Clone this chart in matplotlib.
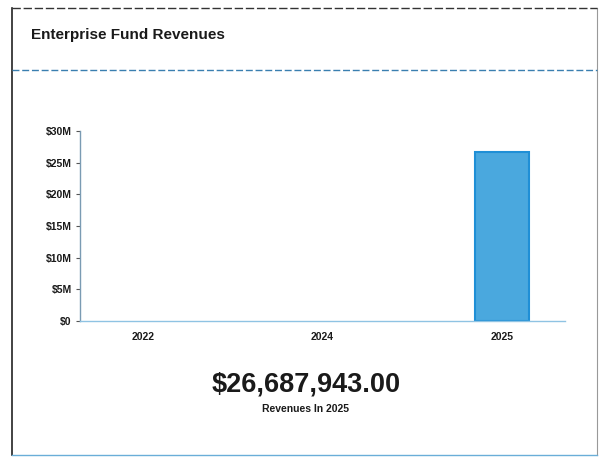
import matplotlib
matplotlib.use("Agg")
import matplotlib.pyplot as plt
from matplotlib.ticker import FuncFormatter
from matplotlib.lines import Line2D

# Revenue by fiscal year
years = ["2022", "2024", "2025"]
revenues = [0, 0, 26687943.00]
y_ticks = [0, 5e6, 10e6, 15e6, 20e6, 25e6, 30e6]
highlight_year = "2025"

plt.rcParams["font.family"] = ["Liberation Sans", "DejaVu Sans"]

W, H = 600, 459
fig = plt.figure(figsize=(W / 100, H / 100), dpi=100)
fig.patch.set_facecolor("white")

# Card frame
def fx(px):
    return px / W

def fy(py):
    return 1 - py / H

frame_col = "#333333"
fig.add_artist(Line2D([fx(12), fx(12)], [fy(8), fy(455)], color="#222222", lw=1.2,
                      transform=fig.transFigure))
fig.add_artist(Line2D([fx(597), fx(597)], [fy(8), fy(455)], color="#999999", lw=0.8,
                      transform=fig.transFigure))
fig.add_artist(Line2D([fx(12), fx(597)], [fy(8), fy(8)], color=frame_col, lw=1.0,
                      ls=(0, (6, 2)), transform=fig.transFigure))
fig.add_artist(Line2D([fx(12), fx(597)], [fy(70), fy(70)], color="#3a7fb0", lw=1.0,
                      ls=(0, (5, 2)), transform=fig.transFigure))
fig.add_artist(Line2D([fx(12), fx(597)], [fy(455), fy(455)], color="#6aaed8", lw=1.0,
                      transform=fig.transFigure))

fig.text(fx(31), fy(35), "Enterprise Fund Revenues", fontsize=11, fontweight="bold",
         color="#1a1a1a", ha="left", va="center")

# Bar chart
ax = fig.add_axes([fx(80), fy(321), fx(565) - fx(80), fy(131) - fy(321)])
x = list(range(len(years)))
edges = ["#1f8fd6" if v > 0 else "none" for v in revenues]
ax.bar(x, revenues, width=0.3, color="#4aa8de", edgecolor=edges, linewidth=1.5)
ax.set_xlim(-0.35, len(years) - 1 + 0.35)
ax.set_ylim(0, 30e6)
ax.set_yticks(y_ticks)
ax.yaxis.set_major_formatter(FuncFormatter(lambda v, p: f"${v / 1e6:.0f}M" if v else "$0"))
ax.set_xticks(x)
ax.set_xticklabels(years)
for lab in ax.get_xticklabels() + ax.get_yticklabels():
    lab.set_fontweight("bold")
    lab.set_fontsize(7.5)
    lab.set_color("#1a1a1a")
ax.tick_params(axis="y", length=3, width=0.8, color="#555555", pad=3)
ax.tick_params(axis="x", length=0, pad=8)
for side in ("top", "right"):
    ax.spines[side].set_visible(False)
ax.spines["left"].set_color("#7a9bb3")
ax.spines["left"].set_linewidth(1.0)
ax.spines["bottom"].set_color("#8fc3e3")
ax.spines["bottom"].set_linewidth(1.0)
ax.set_facecolor("none")

total = revenues[years.index(highlight_year)]
fig.text(fx(306), fy(385), f"${total:,.2f}", fontsize=19.5, fontweight="bold",
         color="#1a1a1a", ha="center", va="center")
fig.text(fx(306), fy(409), f"Revenues In {highlight_year}", fontsize=7.5,
         fontweight="bold", color="#1a1a1a", ha="center", va="center")

fig.savefig("out.png", dpi=100, facecolor="white")
